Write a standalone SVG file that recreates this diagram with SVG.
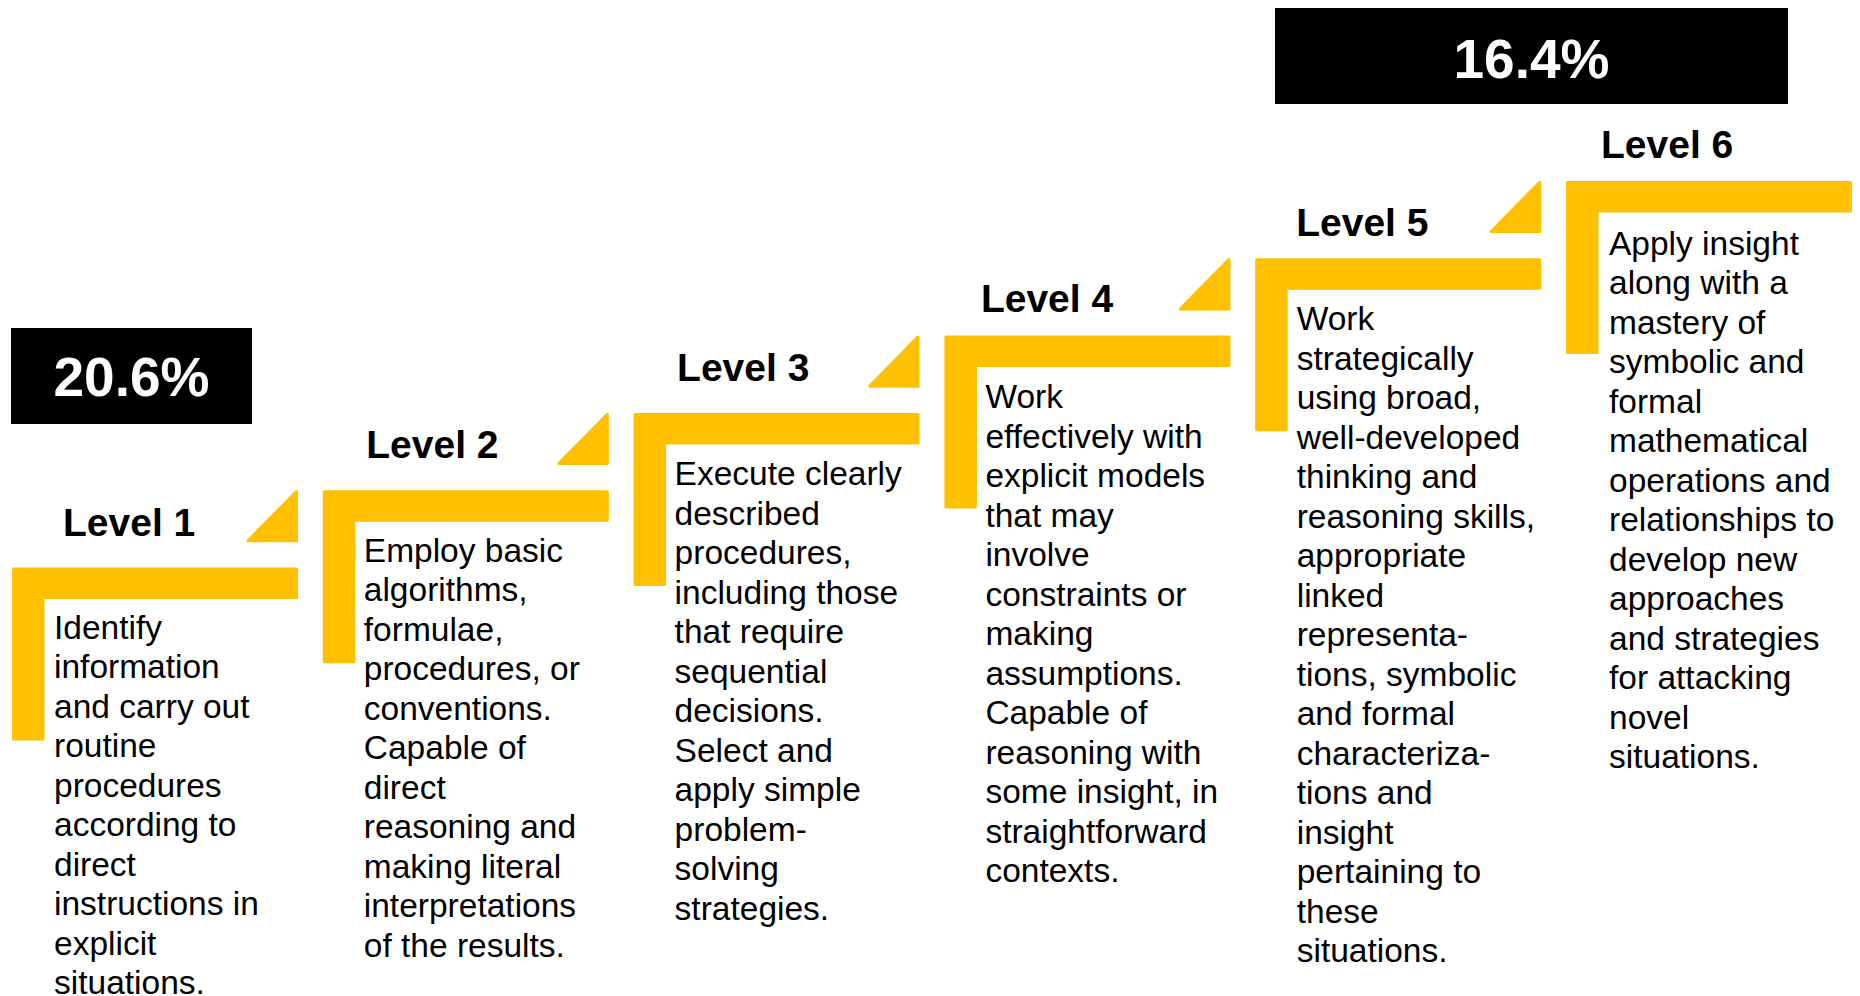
<svg xmlns="http://www.w3.org/2000/svg" width="1860" height="996" viewBox="0 0 1860 996">
  <style>
    .step { fill: #FFC000; stroke: #FFC000; stroke-width: 3; stroke-linejoin: round; }
    .title { font-family: "Liberation Sans", Arial, sans-serif; font-weight: bold; font-size: 39px; fill: #000; }
    .body { font-family: "Liberation Sans", Arial, sans-serif; font-size: 33.5px; fill: #000; }
    .pct { font-family: "Liberation Sans", Arial, sans-serif; font-weight: bold; font-size: 55px; fill: #fff; text-anchor: middle; }
    .box { fill: #000; }
  </style>
  <defs>
    <path id="ell" class="step" d="M1.5,1.5 H284.5 V30 H31 V171.5 H1.5 Z"/>
    <path id="tri" class="step" d="M236,-26.7 L284.5,-26.7 L284.5,-76 Z"/>
  </defs>
  <rect width="1860" height="996" fill="#fff"/>

  <g id="connectors"></g>

  <g id="pct-20-6">
    <rect class="box" x="11" y="328" width="241" height="96"/>
    <text class="pct" x="131.5" y="396">20.6%</text>
  </g>

  <g id="pct-16-4">
    <rect class="box" x="1275" y="8" width="513" height="96"/>
    <text class="pct" x="1531.5" y="78">16.4%</text>
  </g>

  <g id="level1" transform="translate(12,567.5)">
    <use href="#ell"/>
    <use href="#tri"/>
    <text class="title" x="51" y="-31.5">Level 1</text>
    <text class="body" x="42" y="71">
      <tspan x="42" dy="0">Identify</tspan>
      <tspan x="42" dy="39.5">information</tspan>
      <tspan x="42" dy="39.5">and carry out</tspan>
      <tspan x="42" dy="39.5">routine</tspan>
      <tspan x="42" dy="39.5">procedures</tspan>
      <tspan x="42" dy="39.5">according to</tspan>
      <tspan x="42" dy="39.5">direct</tspan>
      <tspan x="42" dy="39.5">instructions in</tspan>
      <tspan x="42" dy="39.5">explicit</tspan>
      <tspan x="42" dy="39.5">situations.</tspan>
    </text>
  </g>

  <g id="level2" transform="translate(322.8,490.2)">
    <use href="#ell"/>
    <use href="#tri"/>
    <text class="title" x="43.5" y="-32">Level 2</text>
    <text class="body" x="41" y="71.5">
      <tspan x="41" dy="0">Employ basic</tspan>
      <tspan x="41" dy="39.5">algorithms,</tspan>
      <tspan x="41" dy="39.5">formulae,</tspan>
      <tspan x="41" dy="39.5">procedures, or</tspan>
      <tspan x="41" dy="39.5">conventions.</tspan>
      <tspan x="41" dy="39.5">Capable of</tspan>
      <tspan x="41" dy="39.5">direct</tspan>
      <tspan x="41" dy="39.5">reasoning and</tspan>
      <tspan x="41" dy="39.5">making literal</tspan>
      <tspan x="41" dy="39.5">interpretations</tspan>
      <tspan x="41" dy="39.5">of the results.</tspan>
    </text>
  </g>

  <g id="level3" transform="translate(633.6,412.9)">
    <use href="#ell"/>
    <use href="#tri"/>
    <text class="title" x="43.5" y="-32">Level 3</text>
    <text class="body" x="41" y="72.5">
      <tspan x="41" dy="0">Execute clearly</tspan>
      <tspan x="41" dy="39.5">described</tspan>
      <tspan x="41" dy="39.5">procedures,</tspan>
      <tspan x="41" dy="39.5">including those</tspan>
      <tspan x="41" dy="39.5">that require</tspan>
      <tspan x="41" dy="39.5">sequential</tspan>
      <tspan x="41" dy="39.5">decisions.</tspan>
      <tspan x="41" dy="39.5">Select and</tspan>
      <tspan x="41" dy="39.5">apply simple</tspan>
      <tspan x="41" dy="39.5">problem-</tspan>
      <tspan x="41" dy="39.5">solving</tspan>
      <tspan x="41" dy="39.5">strategies.</tspan>
    </text>
  </g>

  <g id="level4" transform="translate(944.4,335.6)">
    <use href="#ell"/>
    <use href="#tri"/>
    <text class="title" x="36.5" y="-23.5">Level 4</text>
    <text class="body" x="41" y="72.5">
      <tspan x="41" dy="0">Work</tspan>
      <tspan x="41" dy="39.5">effectively with</tspan>
      <tspan x="41" dy="39.5">explicit models</tspan>
      <tspan x="41" dy="39.5">that may</tspan>
      <tspan x="41" dy="39.5">involve</tspan>
      <tspan x="41" dy="39.5">constraints or</tspan>
      <tspan x="41" dy="39.5">making</tspan>
      <tspan x="41" dy="39.5">assumptions.</tspan>
      <tspan x="41" dy="39.5">Capable of</tspan>
      <tspan x="41" dy="39.5">reasoning with</tspan>
      <tspan x="41" dy="39.5">some insight, in</tspan>
      <tspan x="41" dy="39.5">straightforward</tspan>
      <tspan x="41" dy="39.5">contexts.</tspan>
    </text>
  </g>

  <g id="level5" transform="translate(1255.2,258.3)">
    <use href="#ell"/>
    <use href="#tri"/>
    <text class="title" x="41" y="-22.5">Level 5</text>
    <text class="body" x="41.5" y="72">
      <tspan x="41.5" dy="0">Work</tspan>
      <tspan x="41.5" dy="39.5">strategically</tspan>
      <tspan x="41.5" dy="39.5">using broad,</tspan>
      <tspan x="41.5" dy="39.5">well-developed</tspan>
      <tspan x="41.5" dy="39.5">thinking and</tspan>
      <tspan x="41.5" dy="39.5">reasoning skills,</tspan>
      <tspan x="41.5" dy="39.5">appropriate</tspan>
      <tspan x="41.5" dy="39.5">linked</tspan>
      <tspan x="41.5" dy="39.5">representa-</tspan>
      <tspan x="41.5" dy="39.5">tions, symbolic</tspan>
      <tspan x="41.5" dy="39.5">and formal</tspan>
      <tspan x="41.5" dy="39.5">characteriza-</tspan>
      <tspan x="41.5" dy="39.5">tions and</tspan>
      <tspan x="41.5" dy="39.5">insight</tspan>
      <tspan x="41.5" dy="39.5">pertaining to</tspan>
      <tspan x="41.5" dy="39.5">these</tspan>
      <tspan x="41.5" dy="39.5">situations.</tspan>
    </text>
  </g>

  <g id="level6" transform="translate(1566,181)">
    <use href="#ell"/>
    <text class="title" x="35" y="-23">Level 6</text>
    <text class="body" x="43" y="73.5">
      <tspan x="43" dy="0">Apply insight</tspan>
      <tspan x="43" dy="39.5">along with a</tspan>
      <tspan x="43" dy="39.5">mastery of</tspan>
      <tspan x="43" dy="39.5">symbolic and</tspan>
      <tspan x="43" dy="39.5">formal</tspan>
      <tspan x="43" dy="39.5">mathematical</tspan>
      <tspan x="43" dy="39.5">operations and</tspan>
      <tspan x="43" dy="39.5">relationships to</tspan>
      <tspan x="43" dy="39.5">develop new</tspan>
      <tspan x="43" dy="39.5">approaches</tspan>
      <tspan x="43" dy="39.5">and strategies</tspan>
      <tspan x="43" dy="39.5">for attacking</tspan>
      <tspan x="43" dy="39.5">novel</tspan>
      <tspan x="43" dy="39.5">situations.</tspan>
    </text>
  </g>
</svg>
